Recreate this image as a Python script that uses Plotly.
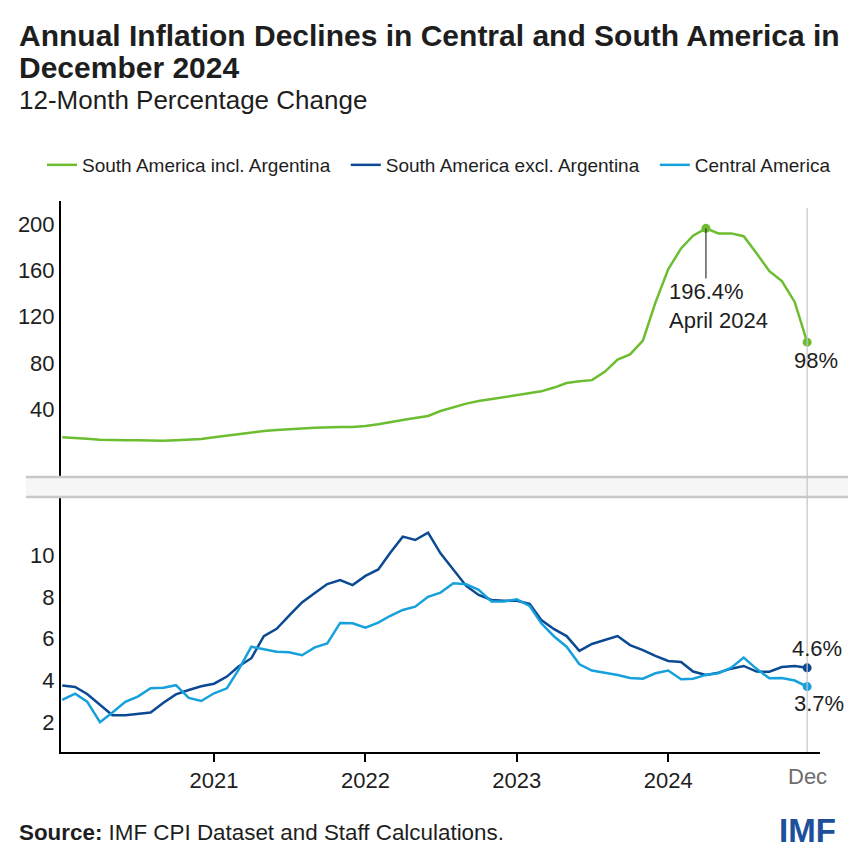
import pandas as pd
import plotly.graph_objects as go

# ---------------- data ----------------
months = pd.date_range("2020-01-01", periods=60, freq="MS")

sa_incl_arg = [15.8, 15.5, 14.6, 13.7, 13.2, 13.2, 13.2, 12.9, 12.8, 13.2,
               13.5, 14.3, 15.8, 17.2, 18.9, 20.1, 21.2, 22.1, 23.0, 23.5,
               24.1, 24.7, 24.7, 24.8, 25.5, 27.0, 29.0, 30.7, 32.4, 34.2,
               38.5, 41.8, 44.9, 47.1, 48.8, 50.3, 52.3, 54.3, 55.5, 58.8,
               62.7, 64.3, 65.2, 72.4, 82.9, 87.4, 99.3, 132.0, 161.0, 179.0,
               190.0, 196.4, 192.0, 192.0, 189.6, 174.8, 159.4, 150.8, 132.8, 98.0]

sa_excl_arg = [3.75, 3.68, 3.35, 2.82, 2.33, 2.33, 2.39, 2.46, 2.93, 3.33,
               3.54, 3.72, 3.84, 4.18, 4.66, 5.06, 6.12, 6.47, 7.10, 7.73,
               8.18, 8.61, 8.80, 8.56, 9.00, 9.31, 10.08, 10.88, 10.72, 11.07,
               10.08, 9.32, 8.52, 8.09, 7.85, 7.81, 7.81, 7.66, 6.89, 6.45,
               6.12, 5.41, 5.74, 5.93, 6.12, 5.69, 5.45, 5.17, 4.93, 4.88,
               4.42, 4.26, 4.37, 4.56, 4.69, 4.42, 4.41, 4.64, 4.69, 4.60]

central_am = [3.06, 3.36, 2.98, 2.00, 2.46, 2.97, 3.22, 3.62, 3.65, 3.77,
              3.16, 3.01, 3.38, 3.62, 4.50, 5.61, 5.49, 5.37, 5.34, 5.20,
              5.58, 5.77, 6.75, 6.73, 6.52, 6.76, 7.08, 7.37, 7.53, 8.00,
              8.20, 8.65, 8.60, 8.33, 7.78, 7.78, 7.88, 7.56, 6.73, 6.10,
              5.61, 4.77, 4.47, 4.37, 4.26, 4.11, 4.08, 4.34, 4.47, 4.05,
              4.08, 4.26, 4.34, 4.61, 5.09, 4.55, 4.10, 4.11, 3.99, 3.70]

series_names = ["South America incl. Argentina", "South America excl. Argentina", "Central America"]
top_ticks = [40, 80, 120, 160, 200]
bottom_ticks = [2, 4, 6, 8, 10]
year_ticks = ["2021-01-01", "2022-01-01", "2023-01-01", "2024-01-01"]
year_labels = ["2021", "2022", "2023", "2024"]

# ---------------- styling ----------------
GREEN = "#6cbd2f"
DARK = "#0b4a93"
LIGHT = "#16a0dc"
TXT = "#1e1e1e"
FONT = "Liberation Sans, Arial, sans-serif"
PAD = "\u00a0\u00a0"   # extra spacing between legend entries

W, H = 862, 865
ML, MR, MT, MB = 61, 42, 201, 113
PW, PH = W - ML - MR, H - MT - MB


def px(p):
    return (p - ML) / PW


def py(p):
    return (H - MB - p) / PH


fig = go.Figure()

# top panel
fig.add_trace(go.Scatter(x=months, y=sa_incl_arg, mode="lines", name=series_names[0] + PAD,
                         line=dict(color=GREEN, width=2.5), xaxis="x", yaxis="y"))
# bottom panel
fig.add_trace(go.Scatter(x=months, y=sa_excl_arg, mode="lines", name=series_names[1] + PAD,
                         line=dict(color=DARK, width=2.5), xaxis="x2", yaxis="y2"))
fig.add_trace(go.Scatter(x=months, y=central_am, mode="lines", name=series_names[2],
                         line=dict(color=LIGHT, width=2.5), xaxis="x2", yaxis="y2"))

# highlight points
peak_i = max(range(len(sa_incl_arg)), key=lambda k: sa_incl_arg[k])
fig.add_trace(go.Scatter(x=[months[peak_i], months[-1]], y=[sa_incl_arg[peak_i], sa_incl_arg[-1]],
                         mode="markers", marker=dict(color=GREEN, size=9), showlegend=False,
                         xaxis="x", yaxis="y"))
fig.add_trace(go.Scatter(x=[months[-1]], y=[sa_excl_arg[-1]], mode="markers",
                         marker=dict(color=DARK, size=9), showlegend=False, xaxis="x2", yaxis="y2"))
fig.add_trace(go.Scatter(x=[months[-1]], y=[central_am[-1]], mode="markers",
                         marker=dict(color=LIGHT, size=9), showlegend=False, xaxis="x2", yaxis="y2"))

xrange = ["2019-12-29", "2025-01-01"]
y_split = py(477)
y2_top = py(498)

fig.update_layout(
    width=W, height=H,
    margin=dict(l=ML, r=MR, t=MT, b=MB),
    paper_bgcolor="white", plot_bgcolor="white",
    font=dict(family=FONT, color=TXT, size=22),
    showlegend=True,
    legend=dict(orientation="h", x=px(42), y=py(146), xanchor="left", yanchor="top",
                font=dict(size=19, color=TXT), bgcolor="rgba(0,0,0,0)",
                itemwidth=30, tracegroupgap=0),
    xaxis=dict(domain=[0, 1], anchor="y", range=xrange, showticklabels=False, showline=False,
               showgrid=False, zeroline=False, ticks="", matches="x2"),
    yaxis=dict(domain=[y_split, 1], anchor="x", range=[-18.5, 220], tickvals=top_ticks,
               showline=True, linecolor="black", linewidth=2, showgrid=False, zeroline=False,
               ticks="", tickfont=dict(size=22, color=TXT)),
    xaxis2=dict(domain=[0, 1], anchor="y2", range=xrange, tickvals=year_ticks, ticktext=year_labels,
                showline=True, linecolor="black", linewidth=2, ticks="outside", ticklen=8,
                tickwidth=2, tickcolor="black", showgrid=False, zeroline=False,
                tickfont=dict(size=22, color=TXT)),
    yaxis2=dict(domain=[0, y2_top], anchor="x2", range=[0.57, 12.73], tickvals=bottom_ticks,
                showline=True, linecolor="black", linewidth=2, showgrid=False, zeroline=False,
                ticks="", tickfont=dict(size=22, color=TXT)),
)

shapes = []
# axis break band
shapes.append(dict(type="rect", xref="paper", yref="paper", x0=px(26), x1=px(848),
                   y0=py(497), y1=py(477), fillcolor="#f6f6f6", line=dict(width=0), layer="above"))
for yy in (477, 497):
    shapes.append(dict(type="line", xref="paper", yref="paper", x0=px(26), x1=px(848),
                       y0=py(yy), y1=py(yy), line=dict(color="#c8c8c8", width=2.5), layer="above"))
# vertical reference line at last month
shapes.append(dict(type="line", xref="x2", yref="paper", x0=months[-1], x1=months[-1],
                   y0=0, y1=py(208), line=dict(color="#c4c4c4", width=1.2), layer="above"))
# leader line for peak
shapes.append(dict(type="line", xref="x", yref="y", x0=months[peak_i], x1=months[peak_i],
                   y0=sa_incl_arg[peak_i], y1=153, line=dict(color="#333333", width=1.2)))
fig.update_layout(shapes=shapes)

ann = []
ann.append(dict(text="<b>Annual Inflation Declines in Central and South America in</b>",
                xref="paper", yref="paper", x=px(17), y=py(35), xanchor="left", yanchor="middle",
                showarrow=False, font=dict(size=30, color=TXT)))
ann.append(dict(text="<b>December 2024</b>", xref="paper", yref="paper", x=px(17), y=py(68),
                xanchor="left", yanchor="middle", showarrow=False, font=dict(size=30, color=TXT)))
ann.append(dict(text="12-Month Percentage Change", xref="paper", yref="paper", x=px(17), y=py(100),
                xanchor="left", yanchor="middle", showarrow=False, font=dict(size=26, color=TXT)))
ann.append(dict(text=f"{sa_incl_arg[peak_i]:.1f}%<br>April 2024", xref="x", yref="paper",
                x=months[peak_i], xshift=-39, y=py(306), xanchor="left", yanchor="middle",
                align="left", showarrow=False, font=dict(size=22, color=TXT)))
ann.append(dict(text=f"{sa_incl_arg[-1]:.0f}%", xref="x", yref="paper", x=months[-1], xshift=-15,
                y=py(360), xanchor="left", yanchor="middle", showarrow=False,
                font=dict(size=22, color=TXT)))
ann.append(dict(text=f"{sa_excl_arg[-1]:.1f}%", xref="x2", yref="paper", x=months[-1], xshift=-17,
                y=py(648), xanchor="left", yanchor="middle", showarrow=False,
                font=dict(size=22, color=TXT)))
ann.append(dict(text=f"{central_am[-1]:.1f}%", xref="x2", yref="paper", x=months[-1], xshift=-15,
                y=py(703), xanchor="left", yanchor="middle", showarrow=False,
                font=dict(size=22, color=TXT)))
ann.append(dict(text="Dec", xref="x2", yref="paper", x=months[-1], y=py(776), xanchor="center",
                yanchor="middle", showarrow=False, font=dict(size=22, color="#6e6e6e")))
ann.append(dict(text="<b>Source:</b> IMF CPI Dataset and Staff Calculations.", xref="paper",
                yref="paper", x=px(17), y=py(832), xanchor="left", yanchor="middle",
                showarrow=False, font=dict(size=22.4, color=TXT)))
ann.append(dict(text="<b>IMF</b>", xref="paper", yref="paper", x=px(838), y=py(830),
                xanchor="right", yanchor="middle", showarrow=False,
                font=dict(size=33, color="#1d4f9b")))
fig.update_layout(annotations=ann)

fig.write_html("out.html")
